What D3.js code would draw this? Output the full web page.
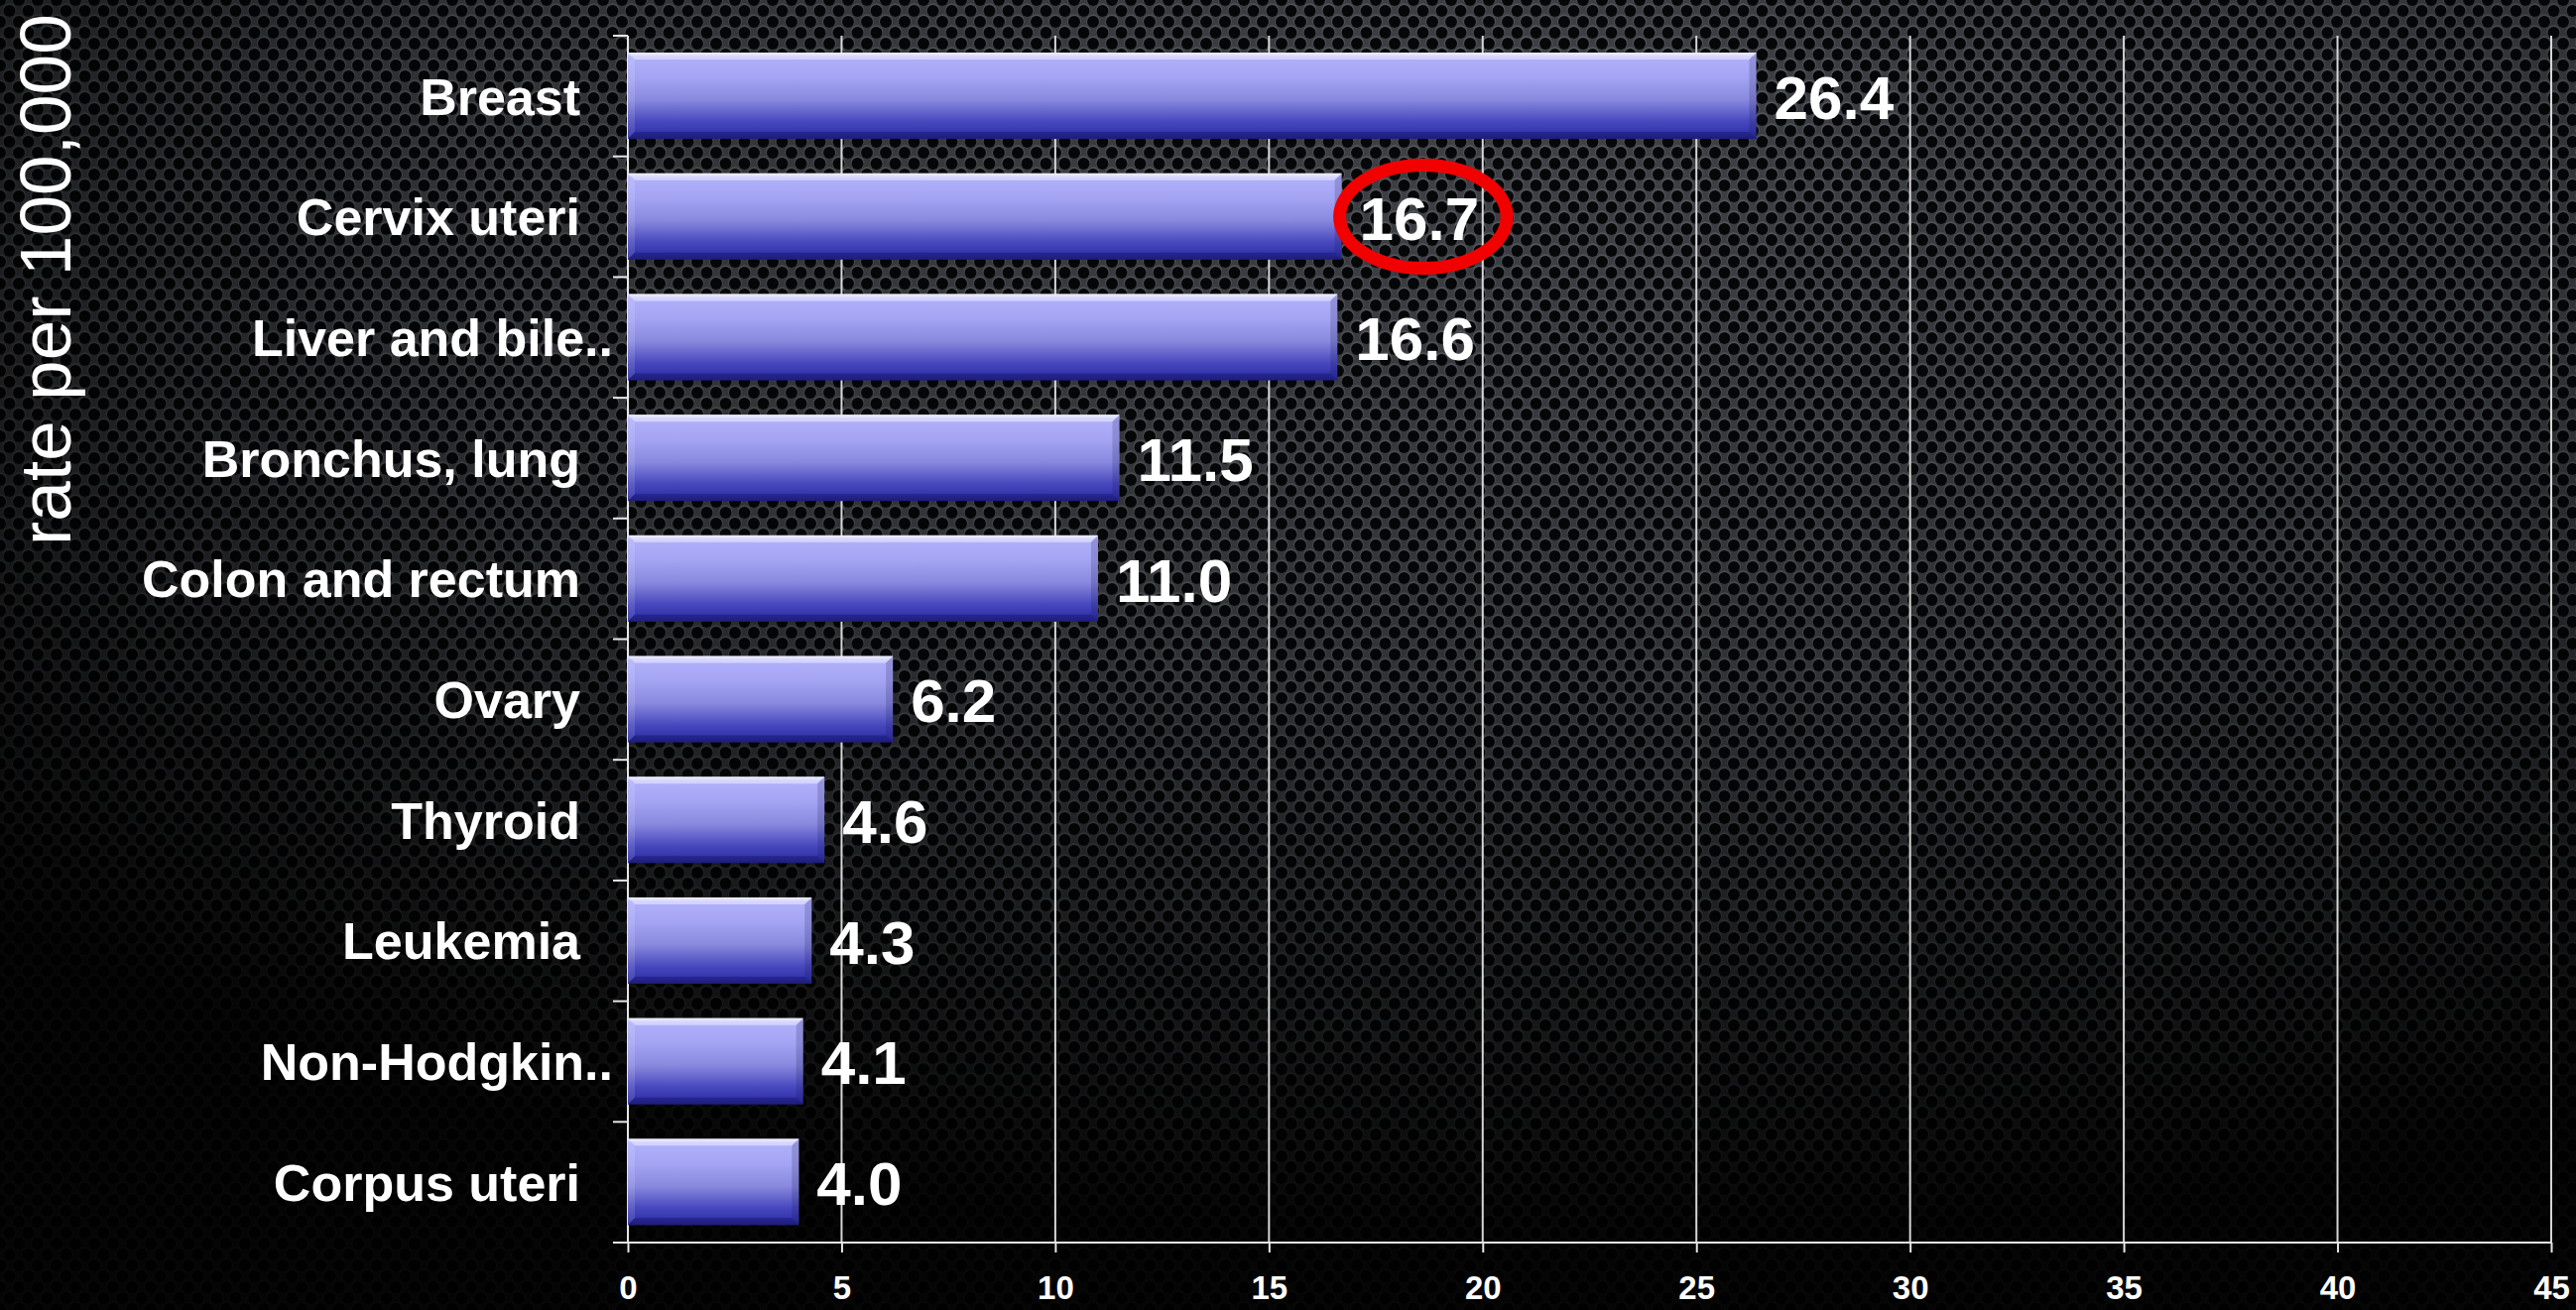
<!DOCTYPE html>
<html>
<head>
<meta charset="utf-8">
<script src="https://cdn.jsdelivr.net/npm/d3@7"></script>
<style>
  body { margin: 0; background: #000; overflow: hidden; }
  text { font-family: "Liberation Sans", Arial, sans-serif; }
</style>
</head>
<body>
<div class="container"></div>
<script>
// chart data
const categories = ["Breast", "Cervix uteri", "Liver and bile..", "Bronchus, lung", "Colon and rectum",
                    "Ovary", "Thyroid", "Leukemia", "Non-Hodgkin..", "Corpus uteri"];
const rates = [26.4, 16.7, 16.6, 11.5, 11.0, 6.2, 4.6, 4.3, 4.1, 4.0];
const xTicks = [0, 5, 10, 15, 20, 25, 30, 35, 40, 45];
const highlighted = ["Cervix uteri"];
const axisTitle = "rate per 100,000";

const data = categories.map(function(c, i) { return {cat: c, value: rates[i]}; });

// build the SVG
svgwidth = 2597;
svgheight = 1321;
margin = {top: 36, right: 25, bottom: 68, left: 633};
mywidth = svgwidth - margin.left - margin.right;
myheight = svgheight - margin.top - margin.bottom;

root = d3.select('.container')
    .append("svg")
    .attr("width", svgwidth)
    .attr("height", svgheight);

defs = root.append("defs");

// perforated metal background
pat = defs.append("pattern")
    .attr("id", "holes")
    .attr("patternUnits", "userSpaceOnUse")
    .attr("width", 19)
    .attr("height", 22);
pat.append("rect").attr("width", 19).attr("height", 22).attr("fill", "#404247");
[[0, 0], [19, 0], [0, 22], [19, 22], [9.5, 11]].forEach(function(p) {
    pat.append("circle").attr("cx", p[0]).attr("cy", p[1] - 0.8).attr("r", 6.9).attr("fill", "#585b60");
    pat.append("circle").attr("cx", p[0]).attr("cy", p[1]).attr("r", 6).attr("fill", "#060709");
});

vig = defs.append("radialGradient")
    .attr("id", "vignette")
    .attr("cx", "60%").attr("cy", "10%").attr("r", "85%");
vig.append("stop").attr("offset", "0%").attr("stop-color", "#000").attr("stop-opacity", 0.02);
vig.append("stop").attr("offset", "50%").attr("stop-color", "#000").attr("stop-opacity", 0.25);
vig.append("stop").attr("offset", "100%").attr("stop-color", "#000").attr("stop-opacity", 0.92);

root.append("rect").attr("width", svgwidth).attr("height", svgheight).attr("fill", "url(#holes)");
root.append("rect").attr("width", svgwidth).attr("height", svgheight).attr("fill", "url(#vignette)");

// bar gradient
barGrad = defs.append("linearGradient")
    .attr("id", "barfill")
    .attr("x1", 0).attr("y1", 0).attr("x2", 0).attr("y2", 1);
[["0%", "#e4e4ff"], ["5%", "#b0b0fb"], ["30%", "#a3a3f3"], ["55%", "#8888de"],
 ["80%", "#4848be"], ["94%", "#3232aa"], ["100%", "#25258a"]].forEach(function(s) {
    barGrad.append("stop").attr("offset", s[0]).attr("stop-color", s[1]);
});

svg2 = root.append("g")
    .attr("transform", "translate(" + margin.left + "," + margin.top + ")");

// build the scales
posX = d3.scaleLinear()
    .domain([0, 45])
    .range([0, mywidth]);
posY = d3.scaleBand()
    .domain(categories)
    .range([0, myheight]);
step = posY.step();
barInset = step * 0.14;
barH = step * 0.715;

// grid lines
svg2.selectAll(".grid")
    .data(xTicks.filter(function(t) { return t > 0; }))
    .enter()
    .append("line")
        .attr("class", "grid")
        .attr("x1", function(d) { return posX(d); })
        .attr("x2", function(d) { return posX(d); })
        .attr("y1", 0)
        .attr("y2", myheight)
        .attr("stroke", "#d6d6d6")
        .attr("stroke-width", 2);

// x axis
xAxis = svg2.append("g")
    .attr("class", "axis axis--x")
    .attr("transform", "translate(0," + myheight + ")")
    .call(d3.axisBottom(posX).tickValues(xTicks).tickSize(10).tickPadding(24));
xAxis.select(".domain").remove();
xAxis.selectAll("line").attr("stroke", "#e6e6e6").attr("stroke-width", 2);
xAxis.selectAll("text")
    .attr("fill", "#fff")
    .attr("font-size", "33px")
    .attr("font-weight", "bold")
    .attr("font-family", "Liberation Sans, Arial, sans-serif");
xAxis.append("line")
    .attr("x1", -15).attr("x2", mywidth)
    .attr("stroke", "#e6e6e6").attr("stroke-width", 2);

// y axis: line plus ticks at the band edges
svg2.append("line")
    .attr("x1", 0).attr("x2", 0).attr("y1", 0).attr("y2", myheight)
    .attr("stroke", "#e6e6e6").attr("stroke-width", 2);
svg2.selectAll(".ytick")
    .data(categories)
    .enter()
    .append("line")
        .attr("class", "ytick")
        .attr("x1", -15).attr("x2", 0)
        .attr("y1", function(d) { return posY(d); })
        .attr("y2", function(d) { return posY(d); })
        .attr("stroke", "#e6e6e6").attr("stroke-width", 2);

// bars with a bevel
bars = svg2.selectAll(".bar")
    .data(data)
    .enter()
    .append("g")
        .attr("class", "bar");

bars.append("rect")
    .attr("x", 0)
    .attr("y", function(d) { return posY(d.cat) + barInset; })
    .attr("width", function(d) { return posX(d.value); })
    .attr("height", barH)
    .attr("fill", "url(#barfill)");

const bev = 7;
function bevel(d, side) {
    const x0 = 0, x1 = posX(d.value), y0 = posY(d.cat) + barInset, y1 = y0 + barH;
    let pts;
    if (side == "top") pts = [[x0, y0], [x1, y0], [x1 - bev, y0 + bev], [x0 + bev, y0 + bev]];
    if (side == "left") pts = [[x0, y0], [x0 + bev, y0 + bev], [x0 + bev, y1 - bev], [x0, y1]];
    if (side == "right") pts = [[x1, y0], [x1, y1], [x1 - bev, y1 - bev], [x1 - bev, y0 + bev]];
    if (side == "bottom") pts = [[x0, y1], [x0 + bev, y1 - bev], [x1 - bev, y1 - bev], [x1, y1]];
    return pts.map(function(p) { return p.join(","); }).join(" ");
}
bars.append("polygon").attr("points", function(d) { return bevel(d, "top"); })
    .attr("fill", "#fff").attr("fill-opacity", 0.45);
bars.append("polygon").attr("points", function(d) { return bevel(d, "left"); })
    .attr("fill", "#fff").attr("fill-opacity", 0.12);
bars.append("polygon").attr("points", function(d) { return bevel(d, "right"); })
    .attr("fill", "#10104a").attr("fill-opacity", 0.18);
bars.append("polygon").attr("points", function(d) { return bevel(d, "bottom"); })
    .attr("fill", "#15156a").attr("fill-opacity", 0.45);

// category labels
svg2.selectAll(".catlabel")
    .data(data)
    .enter()
    .append("text")
        .attr("class", "catlabel")
        .attr("x", function(d) { return d.cat.endsWith("..") ? -15 : -48; })
        .attr("y", function(d) { return posY(d.cat) + step / 2 + 52 * 0.36; })
        .attr("text-anchor", "end")
        .attr("font-size", "52px")
        .attr("font-weight", "bold")
        .attr("fill", "#fff")
        .text(function(d) { return d.cat; });

// value labels
vals = svg2.selectAll(".vallabel")
    .data(data)
    .enter()
    .append("text")
        .attr("class", "vallabel")
        .attr("x", function(d) { return posX(d.value) + 18; })
        .attr("y", function(d) { return posY(d.cat) + step / 2 + 23; })
        .attr("font-size", "62px")
        .attr("font-weight", "bold")
        .attr("fill", "#fff")
        .text(function(d) { return d.value.toFixed(1); });

// red ring round the highlighted value
vals.filter(function(d) { return highlighted.indexOf(d.cat) >= 0; })
    .each(function(d) {
        const bb = this.getBBox();
        svg2.append("ellipse")
            .attr("cx", bb.x + bb.width / 2 + 4)
            .attr("cy", posY(d.cat) + step / 2)
            .attr("rx", bb.width / 2 + 24)
            .attr("ry", 52)
            .attr("fill", "none")
            .attr("stroke", "#f20000")
            .attr("stroke-width", 13);
    });

// axis title
root.append("text")
    .attr("transform", "translate(71,550) rotate(-90)")
    .attr("font-size", "73px")
    .attr("fill", "#fff")
    .text(axisTitle);
</script>
</body>
</html>
